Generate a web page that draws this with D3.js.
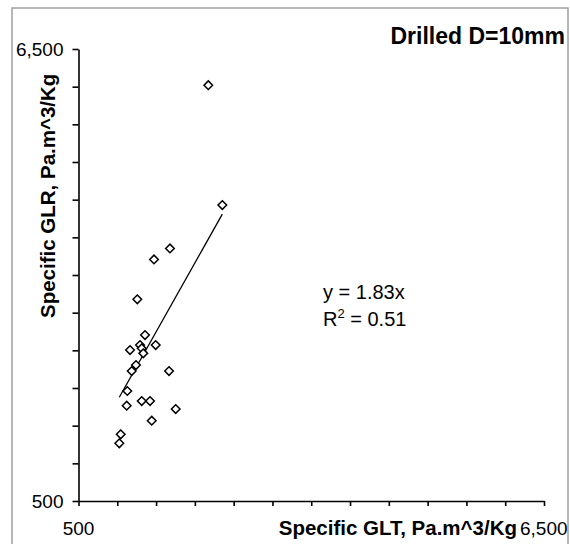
<!DOCTYPE html>
<html>
<head>
<meta charset="utf-8">
<script src="https://cdn.jsdelivr.net/npm/d3@7"></script>
<style>
  body { margin: 0; background: #fff; }
  text { font-family: "Liberation Sans", Arial, sans-serif; }
</style>
</head>
<body>
<div id="container"></div>
<script>
var W = 570, H = 544;
var margin = {top: 49, right: 26, bottom: 43, left: 78.5},
    width = W - margin.left - margin.right,
    height = H - margin.top - margin.bottom;

// specific GLT (x) and GLR (y), Pa.m^3/Kg
var glt = [2173, 2354, 1679, 1473, 1258, 1357, 1164, 1293, 1315, 1335, 1495,
           1241, 1186, 1667, 1129, 1121, 1315, 1422, 1753, 1444, 1044, 1026];
var glr = [6020, 4428, 3853, 3707, 3177, 2703, 2504, 2570, 2526, 2460, 2570,
           2305, 2225, 2225, 1960, 1765, 1827, 1827, 1721, 1566, 1385, 1266];
var slope = 1.83;
var r2 = 0.51;
var axisMin = 500, axisMax = 6500, axisStep = 500;
var tickLabels = ["500", "6,500"];

var svg = d3.select("#container")
    .append("svg")
        .attr("width", W)
        .attr("height", H);

// chart frame
svg.append("rect")
    .attr("x", 12).attr("y", 8)
    .attr("width", 556).attr("height", 545)
    .attr("fill", "none")
    .attr("stroke", "#a0a0a0")
    .attr("stroke-width", 1.5);

var g = svg.append("g")
    .attr("transform", "translate(" + margin.left + "," + margin.top + ")");

var x = d3.scaleLinear().domain([axisMin, axisMax]).range([0, width]);
var y = d3.scaleLinear().domain([axisMin, axisMax]).range([height, 0]);
var ticks = d3.range(axisMin, axisMax + 1, axisStep);

function styleAxis(a) {
    a.select(".domain").attr("stroke-width", 1.6);
    a.selectAll(".tick line").attr("stroke-width", 1.6);
}

g.append("g")
    .attr("transform", "translate(0," + height + ")")
    .call(d3.axisBottom(x).tickValues(ticks).tickSize(5).tickSizeOuter(0).tickFormat(""))
    .call(styleAxis);

g.append("g")
    .call(d3.axisLeft(y).tickValues(ticks).tickSize(6).tickSizeOuter(0).tickFormat(""))
    .call(styleAxis);

// end labels only, like the original
g.selectAll(".xlab")
    .data([axisMin, axisMax])
    .enter().append("text")
    .attr("x", function(d) { return x(d); })
    .attr("y", height + 34)
    .attr("text-anchor", function(d, i) { return i ? "start" : "middle"; })
    .attr("dx", function(d, i) { return i ? -24 : 0; })
    .style("font-size", "19px")
    .text(function(d, i) { return tickLabels[i]; });

g.selectAll(".ylab")
    .data([axisMin, axisMax])
    .enter().append("text")
    .attr("x", -15)
    .attr("y", function(d) { return y(d); })
    .attr("dy", "0.35em")
    .attr("text-anchor", "end")
    .style("font-size", "19px")
    .text(function(d, i) { return tickLabels[i]; });

// axis titles
g.append("text")
    .attr("x", 517 - margin.left)
    .attr("y", height + 34)
    .attr("text-anchor", "end")
    .style("font-size", "20.5px")
    .style("font-weight", "bold")
    .text("Specific GLT, Pa.m^3/Kg");

g.append("text")
    .attr("transform", "translate(" + (55 - margin.left) + "," + (318 - margin.top) + ") rotate(-90)")
    .attr("text-anchor", "start")
    .style("font-size", "20.5px")
    .style("font-weight", "bold")
    .text("Specific GLR, Pa.m^3/Kg");

svg.append("text")
    .attr("x", 565)
    .attr("y", 44)
    .attr("text-anchor", "end")
    .style("font-size", "23px")
    .style("font-weight", "bold")
    .text("Drilled D=10mm");

// linear trend through origin
var xr = d3.extent(glt);
g.append("line")
    .attr("x1", x(xr[0])).attr("y1", y(slope * xr[0]))
    .attr("x2", x(xr[1])).attr("y2", y(slope * xr[1]))
    .attr("stroke", "black")
    .attr("stroke-width", 1.3);

var pts = glt.map(function(d, i) { return [d, glr[i]]; });
g.selectAll("path.pt")
    .data(pts)
    .enter().append("path")
    .attr("class", "pt")
    .attr("d", "M0,-4.3L4.3,0L0,4.3L-4.3,0Z")
    .attr("transform", function(d) { return "translate(" + x(d[0]) + "," + y(d[1]) + ")"; })
    .attr("fill", "white")
    .attr("stroke", "black")
    .attr("stroke-width", 1.5);

// equation
var eq = g.append("g").attr("transform", "translate(" + (323 - margin.left) + "," + (299 - margin.top) + ")");
eq.append("text")
    .style("font-size", "20px")
    .text("y = " + slope + "x");
var t2 = eq.append("text")
    .attr("y", 27)
    .style("font-size", "20px");
t2.append("tspan").text("R");
t2.append("tspan").attr("dy", -8).style("font-size", "13px").text("2");
t2.append("tspan").attr("dy", 8).text(" = " + r2);
</script>
</body>
</html>
